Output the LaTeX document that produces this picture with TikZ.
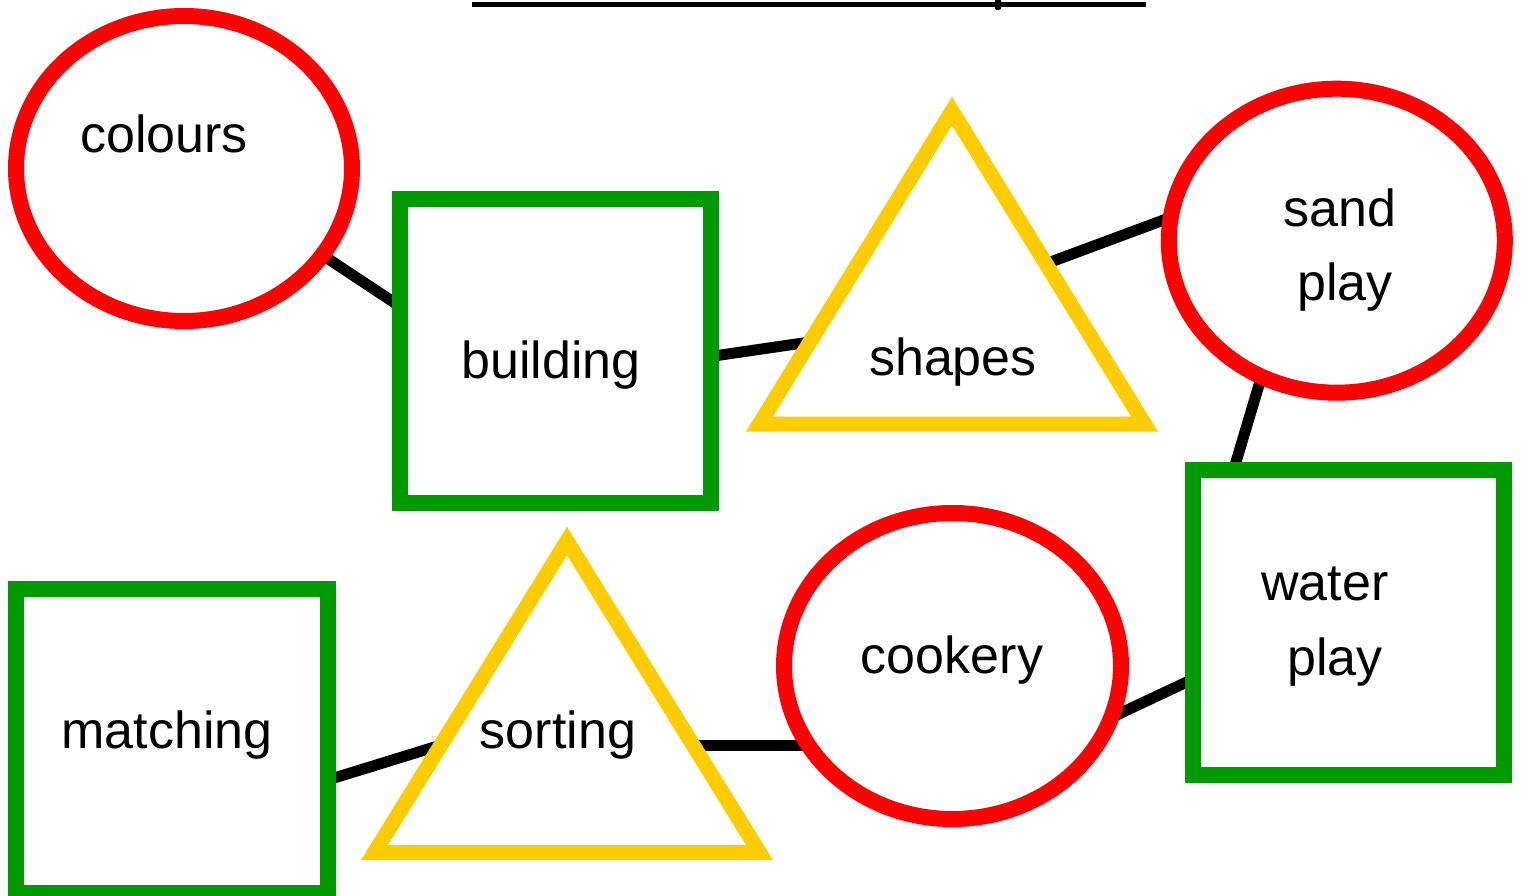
\documentclass[tikz,border=0pt]{standalone}
\usepackage{fontspec}
\setmainfont{Liberation Sans}
\usetikzlibrary{shapes.geometric,calc,backgrounds}
\definecolor{cred}{RGB}{255,0,0}
\definecolor{cgreen}{RGB}{0,153,0}
\definecolor{cyellow}{RGB}{255,204,0}
\tikzset{
  oval/.style={ellipse, draw=cred, line width=16pt, fill=white, inner sep=0pt, outer sep=0pt},
  sq/.style={rectangle, draw=cgreen, line width=16pt, fill=white, inner sep=0pt, outer sep=0pt,
             minimum width=311pt, minimum height=304pt},
  tri/.style={draw=cyellow, line width=15pt, fill=white, miter limit=10},
  link/.style={draw=black, line width=11pt},
  lbl/.style={anchor=base, inner sep=0pt, font=\fontsize{52}{60}\selectfont},
}
\begin{document}
\begin{tikzpicture}[x=1pt, y=-1pt]
\useasboundingbox (0,0) rectangle (1521,896);

% title underline (title itself lies above the picture)
\coordinate (ulL) at (472,4.5);
\coordinate (ulR) at (1146,4.5);
\draw[line width=5pt] (ulL) -- (ulR);
\fill[rounded corners=2pt] (995,-2) rectangle (1001,10);

% ellipses
\node[oval, minimum width=336pt, minimum height=305pt] (colours) at (184,168.5) {};
\node[oval, minimum width=336pt, minimum height=304pt] (sand) at (1336.8,240.7) {};
\node[oval, minimum width=337pt, minimum height=306pt] (cookery) at (952.5,666) {};

% squares
\node[sq] (building) at (555.5,351) {};
\node[sq, minimum height=305pt] (water) at (1348.5,622.5) {};
\node[sq, minimum width=312pt] (matching) at (172,741) {};

% triangles
\coordinate (shA) at (952,111);
\coordinate (shL) at (759.5,424);
\coordinate (shR) at (1144.5,424);
\draw[tri] (shA) -- (shL) -- (shR) -- cycle;
\coordinate (soA) at (567,541);
\coordinate (soL) at (374.5,852.5);
\coordinate (soR) at (759.5,852.5);
\draw[tri] (soA) -- (soL) -- (soR) -- cycle;

\coordinate (shapesW) at ($(shA)!0.738!(shL)$);
\coordinate (shapesE) at ($(shA)!0.488!(shR)$);
\coordinate (sortingE) at ($(soA)!0.655!(soR)$);
\coordinate (sortingW) at ($(soA)!0.655!(soL)$);

% connectors (behind the shapes)
\begin{scope}[on background layer]
  \draw[link] (colours.-32) -- (building.164.1);
  \draw[link] (building.-2) -- (shapesW);
  \draw[link] (shapesE) -- (sand.172.3);
  \draw[link] (sand.-119.3) -- (water.127.7);
  \draw[link] (water.200.1) -- (cookery.-18.8);
  \draw[link] (sortingE) -- (sortingE -| cookery);
  \draw[link] (sortingW) -- (matching.-14.3);
\end{scope}

% labels
\node[lbl] (tcolours) at (164,153) {colours};
\node[lbl] (tbuilding) at (551,378) {building};
\node[lbl] (tshapes) at (953,375) {shapes};
\node[lbl] (tsand) at (1340,227) {sand};
\node[lbl] (tsandplay) at (1345,300) {play};
\node[lbl] (twater) at (1325,600) {water};
\node[lbl] (twaterplay) at (1335,675) {play};
\node[lbl] (tcookery) at (952,673) {cookery};
\node[lbl] (tsorting) at (558,748) {sorting};
\node[lbl] (tmatching) at (167,748) {matching};
\end{tikzpicture}
\end{document}
